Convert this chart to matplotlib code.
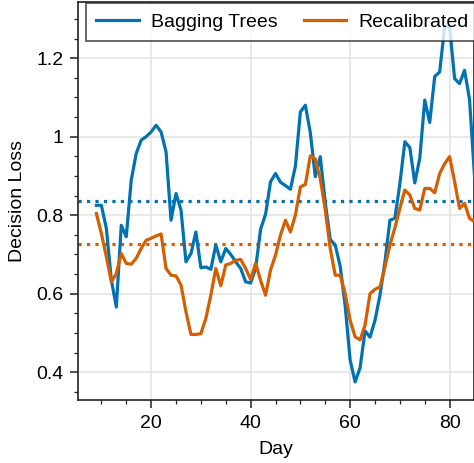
import numpy as np
import matplotlib
matplotlib.use('Agg')
import matplotlib.pyplot as plt
from matplotlib.ticker import MultipleLocator, FuncFormatter

plt.rcParams['font.family'] = ['Liberation Sans', 'DejaVu Sans']

days = np.arange(9, 86)

bagging = [0.825, 0.825, 0.766, 0.635, 0.566, 0.774, 0.745, 0.889, 0.957, 0.991,
           1.000, 1.012, 1.029, 1.012, 0.961, 0.787, 0.855, 0.813, 0.681, 0.702,
           0.757, 0.666, 0.668, 0.662, 0.724, 0.681, 0.715, 0.700, 0.681, 0.664,
           0.630, 0.627, 0.664, 0.764, 0.802, 0.885, 0.906, 0.884, 0.875, 0.866,
           0.925, 1.063, 1.080, 1.010, 0.898, 0.949, 0.832, 0.738, 0.724, 0.670,
           0.570, 0.431, 0.375, 0.411, 0.505, 0.489, 0.532, 0.596, 0.681, 0.787,
           0.792, 0.880, 0.987, 0.972, 0.882, 0.945, 1.093, 1.036, 1.153, 1.165,
           1.280, 1.280, 1.148, 1.135, 1.169, 1.095, 0.900]

recal = [0.804, 0.753, 0.694, 0.630, 0.651, 0.702, 0.677, 0.675, 0.690, 0.715,
         0.736, 0.741, 0.747, 0.752, 0.664, 0.647, 0.645, 0.622, 0.554, 0.496,
         0.496, 0.498, 0.537, 0.596, 0.664, 0.620, 0.673, 0.677, 0.685, 0.687,
         0.664, 0.636, 0.677, 0.634, 0.596, 0.660, 0.698, 0.749, 0.787, 0.757,
         0.800, 0.872, 0.878, 0.951, 0.943, 0.893, 0.813, 0.715, 0.647, 0.647,
         0.600, 0.532, 0.490, 0.482, 0.520, 0.600, 0.611, 0.617, 0.668, 0.724,
         0.768, 0.817, 0.864, 0.851, 0.817, 0.813, 0.868, 0.868, 0.857, 0.906,
         0.931, 0.949, 0.885, 0.817, 0.830, 0.792, 0.783]

bagging_mean = 0.835
recal_mean = 0.726

BLUE = '#0072B2'
ORANGE = '#D55E00'

fig = plt.figure(figsize=(4.74, 4.63), dpi=100)
ax = fig.add_axes([78 / 474, 1 - 400 / 463, (473.5 - 78) / 474, (400 - 2) / 463])

ax.plot(days, bagging, color=BLUE, lw=2.3, label='Bagging Trees', zorder=3)
ax.plot(days, recal, color=ORANGE, lw=2.3, label='Recalibrated', zorder=3)
ax.axhline(bagging_mean, color=BLUE, lw=2.3, ls=':', zorder=2)
ax.axhline(recal_mean, color=ORANGE, lw=2.3, ls=':', zorder=2)

ax.set_xlim(5.3, 84.8)
ax.set_ylim(0.329, 1.343)
ax.xaxis.set_major_locator(MultipleLocator(20))
ax.xaxis.set_minor_locator(MultipleLocator(5))
ax.yaxis.set_major_locator(MultipleLocator(0.2))
ax.yaxis.set_minor_locator(MultipleLocator(0.05))
ax.yaxis.set_major_formatter(FuncFormatter(lambda v, p: f'{v:g}'))

ax.grid(True, which='major', color='#e2e2e2', lw=1.1, zorder=0)
ax.set_axisbelow(True)
for s in ax.spines.values():
    s.set_linewidth(1.2)
    s.set_color('#222222')
ax.tick_params(which='major', length=5.5, width=1.1, labelsize=14, pad=5, color='#222222')
ax.tick_params(which='minor', length=3.2, width=0.9, color='#222222')

ax.set_xlabel('Day', fontsize=14, labelpad=7)
ax.set_ylabel('Decision Loss', fontsize=14, labelpad=7)

leg = ax.legend(loc='upper left', bbox_to_anchor=(0.02, 0.998), borderaxespad=0,
                ncol=2, fontsize=14, fancybox=False, edgecolor='#222222',
                framealpha=0.8, handlelength=2.2, handletextpad=0.6,
                columnspacing=1.35, borderpad=0.53)
leg.get_frame().set_linewidth(1.2)

fig.savefig('out.png', dpi=100)
